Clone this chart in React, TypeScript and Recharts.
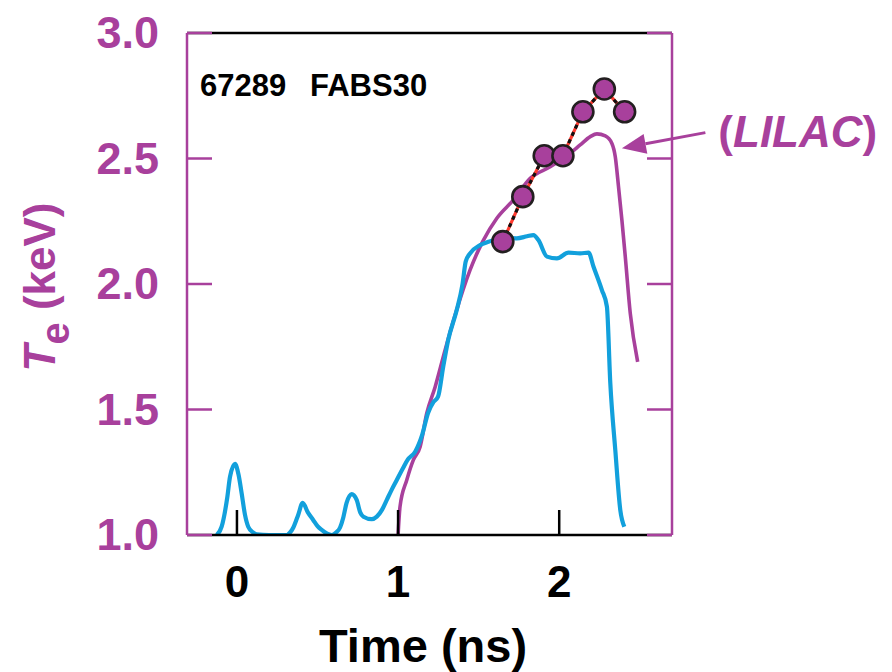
import React from "react";
import { ComposedChart, Line, XAxis, YAxis, ReferenceLine } from "recharts";

const PURPLE = "#a8409c";
const BLUE = "#12a0dc";
const FONT = '"Liberation Sans", Arial, Helvetica, sans-serif';

const timeTicks = [0, 1, 2];
const teTicks = [1.0, 1.5, 2.0, 2.5, 3.0];

// blue streaked trace: [time ns, Te keV]
const streakTrace: [number, number][] = [
  [-0.126, 1.0], [-0.095, 1.033], [-0.06, 1.15], [-0.043, 1.232], [-0.012, 1.283],
  [0.01, 1.24], [0.029, 1.167], [0.05, 1.08], [0.07, 1.033], [0.1, 1.01],
  [0.122, 1.003], [0.2, 1.0], [0.309, 1.0], [0.33, 1.01], [0.35, 1.03],
  [0.38, 1.08], [0.408, 1.128], [0.44, 1.09], [0.473, 1.06], [0.5, 1.035],
  [0.526, 1.02], [0.56, 1.005], [0.588, 1.0], [0.615, 1.01], [0.64, 1.03],
  [0.66, 1.07], [0.68, 1.127], [0.712, 1.163], [0.743, 1.14], [0.765, 1.09],
  [0.785, 1.073], [0.837, 1.063], [0.868, 1.073], [0.9, 1.1], [0.93, 1.14],
  [0.96, 1.18], [0.992, 1.219], [1.031, 1.267], [1.06, 1.3], [1.106, 1.332],
  [1.15, 1.4], [1.186, 1.486], [1.22, 1.53], [1.248, 1.551], [1.28, 1.67],
  [1.311, 1.777], [1.364, 1.896], [1.4, 2.0], [1.42, 2.09], [1.447, 2.122],
  [1.509, 2.155], [1.561, 2.168], [1.65, 2.183], [1.737, 2.182], [1.8, 2.19],
  [1.84, 2.195], [1.871, 2.175], [1.924, 2.109], [1.986, 2.102], [2.058, 2.125],
  [2.13, 2.122], [2.182, 2.125], [2.213, 2.069], [2.265, 1.976], [2.296, 1.91],
  [2.317, 1.606], [2.348, 1.339], [2.379, 1.1], [2.404, 1.033],
];

// LILAC simulation
const lilacTrace: [number, number][] = [
  [1.0, 1.0], [1.012, 1.113], [1.054, 1.219], [1.095, 1.299], [1.137, 1.352],
  [1.178, 1.485], [1.23, 1.59], [1.292, 1.737], [1.354, 1.876], [1.447, 2.056],
  [1.499, 2.135], [1.53, 2.175], [1.613, 2.262], [1.716, 2.335], [1.82, 2.421],
  [1.944, 2.467], [2.068, 2.521], [2.13, 2.554], [2.193, 2.587], [2.234, 2.598],
  [2.286, 2.59], [2.327, 2.56], [2.348, 2.507], [2.368, 2.388], [2.389, 2.255],
  [2.41, 2.109], [2.441, 1.883], [2.487, 1.69],
];

// FABS30 measured points
const fabsPoints: [number, number][] = [
  [1.65, 2.169], [1.774, 2.348], [1.907, 2.511], [2.023, 2.511],
  [2.147, 2.686], [2.28, 2.777], [2.406, 2.686],
];

// arrow: label end -> tip on the LILAC curve
const arrowSegment = [
  { x: 2.907, y: 2.603 },
  { x: 2.389, y: 2.541 },
];

const toRows = (pts: [number, number][]) => pts.map(([t, te]) => ({ t, te }));

const BottomTick = (p: any) => (
  <g>
    <line x1={p.x} x2={p.x} y1={p.y} y2={p.y - 25} stroke="#000" strokeWidth={2.5} />
    <text x={p.x} y={p.y + 62} textAnchor="middle" fontSize={44} fontWeight={700} fill="#000" fontFamily={FONT}>
      {p.payload.value}
    </text>
  </g>
);

const TopTick = (p: any) => (
  <line x1={p.x} x2={p.x} y1={p.y} y2={p.y + 25} stroke="#000" strokeWidth={2.5} />
);

const LeftTick = (p: any) => (
  <g>
    <line x1={p.x} x2={p.x + 25} y1={p.y} y2={p.y} stroke={PURPLE} strokeWidth={2.5} />
    <text x={p.x - 28} y={p.y + 15} textAnchor="end" fontSize={45} fontWeight={700} fill={PURPLE} fontFamily={FONT}>
      {Number(p.payload.value).toFixed(1)}
    </text>
  </g>
);

const RightTick = (p: any) => (
  <line x1={p.x} x2={p.x - 25} y1={p.y} y2={p.y} stroke={PURPLE} strokeWidth={2.5} />
);

const Arrow = (p: any) => {
  const { x1, y1, x2, y2 } = p;
  const len = Math.hypot(x2 - x1, y2 - y1);
  const ux = (x2 - x1) / len;
  const uy = (y2 - y1) / len;
  const bx = x2 - ux * 24;
  const by = y2 - uy * 24;
  const pts = `${x2},${y2} ${bx - uy * 10},${by + ux * 10} ${bx + uy * 10},${by - ux * 10}`;
  return (
    <g>
      <line x1={x1} y1={y1} x2={bx} y2={by} stroke={PURPLE} strokeWidth={3} />
      <polygon points={pts} fill={PURPLE} />
      <text x={x1 + 13} y={y1 + 14} fontSize={44} fontWeight={700} fill={PURPLE} fontFamily={FONT}>
        <tspan>(</tspan>
        <tspan fontStyle="italic">LILAC</tspan>
        <tspan>)</tspan>
      </text>
    </g>
  );
};

export default function App() {
  return (
    <div style={{ position: "absolute", left: 0, top: 0, width: 892, height: 672, background: "#fff" }}>
      <ComposedChart width={892} height={672} margin={{ top: 23, right: 210, bottom: 77, left: 87 }}>
        <XAxis
          dataKey="t"
          type="number"
          domain={[-0.31, 2.7]}
          allowDataOverflow
          ticks={timeTicks}
          height={60}
          axisLine={{ stroke: "#000", strokeWidth: 2.5 }}
          tickLine={false}
          tickSize={0}
          tickMargin={0}
          tick={BottomTick}
          interval={0}
        />
        <XAxis
          xAxisId="top"
          orientation="top"
          type="number"
          domain={[-0.31, 2.7]}
          allowDataOverflow
          ticks={timeTicks}
          height={10}
          axisLine={{ stroke: "#000", strokeWidth: 2.5 }}
          tickLine={false}
          tickSize={0}
          tickMargin={0}
          tick={TopTick}
          interval={0}
        />
        <YAxis
          type="number"
          domain={[1, 3]}
          allowDataOverflow
          ticks={teTicks}
          width={100}
          axisLine={{ stroke: PURPLE, strokeWidth: 2.5 }}
          tickLine={false}
          tickSize={0}
          tickMargin={0}
          tick={LeftTick}
          interval={0}
        />
        <YAxis
          yAxisId="right"
          orientation="right"
          type="number"
          domain={[1, 3]}
          allowDataOverflow
          ticks={teTicks}
          width={10}
          axisLine={{ stroke: PURPLE, strokeWidth: 2.5 }}
          tickLine={false}
          tickSize={0}
          tickMargin={0}
          tick={RightTick}
          interval={0}
        />

        <Line data={toRows(lilacTrace)} dataKey="te" type="monotone" stroke={PURPLE} strokeWidth={3.6} dot={false} isAnimationActive={false} />
        <Line data={toRows(streakTrace)} dataKey="te" type="monotone" stroke={BLUE} strokeWidth={4.2} dot={false} isAnimationActive={false} />
        <Line data={toRows(fabsPoints)} dataKey="te" type="linear" stroke="#ff3b30" strokeWidth={3.2} dot={false} isAnimationActive={false} />
        <Line data={toRows(fabsPoints)} dataKey="te" type="linear" stroke="#111" strokeWidth={3.2} strokeDasharray="4 4" dot={false} isAnimationActive={false} />
        <Line
          data={toRows(fabsPoints)}
          dataKey="te"
          type="linear"
          stroke="none"
          dot={{ r: 10.5, fill: PURPLE, stroke: "#231f20", strokeWidth: 2.6 }}
          isAnimationActive={false}
        />

        <ReferenceLine segment={arrowSegment} ifOverflow="visible" shape={Arrow} />
      </ComposedChart>

      <svg width={892} height={672} style={{ position: "absolute", left: 0, top: 0, pointerEvents: "none" }}>
        <g fontFamily={FONT} fontWeight={700}>
          <text x={200} y={96} fontSize={31} fill="#000">67289</text>
          <text x={310} y={96} fontSize={31} fill="#000">FABS30</text>
          <text x={423} y={662} fontSize={47} textAnchor="middle" fill="#000">Time (ns)</text>
          <text x={55} y={287} transform="rotate(-90 55 287)" textAnchor="middle" fontSize={44} fill={PURPLE}>
            <tspan fontStyle="italic">T</tspan>
            <tspan fontSize={40} dy={14}>e</tspan>
            <tspan dy={-14}> (keV)</tspan>
          </text>
        </g>
      </svg>
    </div>
  );
}
